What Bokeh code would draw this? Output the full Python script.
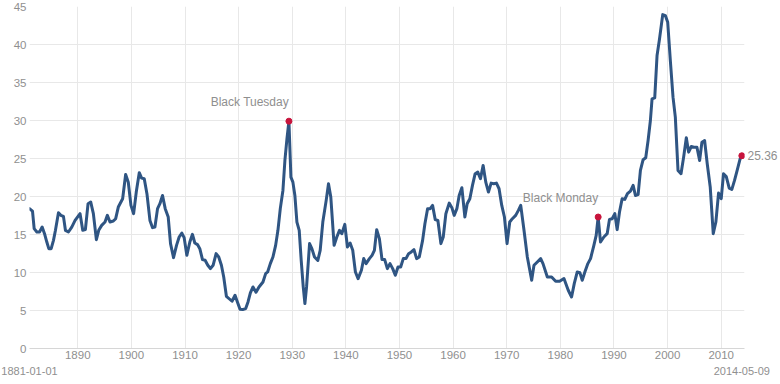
from bokeh.plotting import figure
from bokeh.models import Range1d, FixedTicker, ColumnDataSource, LinearAxis, Label
from bokeh.embed import file_html
from bokeh.resources import INLINE

# ---- data (decimal years, Shiller P/E) ----
years = [1881.00, 1881.56, 1881.87, 1882.37, 1882.87, 1883.36, 1883.80, 1884.23, 1884.60, 1885.04,
         1885.47, 1885.84, 1886.40, 1886.84, 1887.33, 1887.70, 1888.26, 1888.88, 1889.50, 1890.43,
         1890.93, 1891.42, 1891.92, 1892.42, 1892.91, 1893.47, 1893.91, 1894.46, 1895.08, 1895.52,
         1896.01, 1896.63, 1897.07, 1897.56, 1898.37, 1898.93, 1899.42, 1899.92, 1900.42, 1900.91,
         1901.47, 1901.91, 1902.40, 1902.90, 1903.46, 1903.95, 1904.39, 1904.88, 1905.32, 1905.81,
         1906.31, 1906.87, 1907.30, 1907.86, 1908.42, 1908.91, 1909.41, 1909.84, 1910.34, 1910.90,
         1911.39, 1911.83, 1912.33, 1912.76, 1913.26, 1913.75, 1914.25, 1914.74, 1915.24, 1915.80,
         1916.29, 1916.79, 1917.22, 1917.72, 1918.34, 1918.77, 1919.33, 1919.77, 1920.26, 1920.76,
         1921.32, 1921.75, 1922.19, 1922.68, 1923.24, 1923.80, 1924.54, 1925.04, 1925.41, 1925.91,
         1926.40, 1926.90, 1927.33, 1927.77, 1928.26, 1928.63, 1929.01, 1929.38, 1929.75, 1930.12,
         1930.49, 1930.87, 1931.30, 1931.67, 1932.05, 1932.36, 1932.67, 1933.23, 1933.66, 1934.15,
         1934.77, 1935.21, 1935.70, 1936.33, 1936.76, 1937.19, 1937.81, 1938.31, 1938.81, 1939.24,
         1939.80, 1940.29, 1940.79, 1941.28, 1941.78, 1942.28, 1942.90, 1943.33, 1943.77, 1944.39,
         1944.88, 1945.32, 1945.75, 1946.25, 1946.74, 1947.24, 1947.74, 1948.23, 1948.73, 1949.22,
         1949.72, 1950.22, 1950.71, 1951.21, 1951.70, 1952.20, 1952.70, 1953.19, 1953.69, 1954.31,
         1954.74, 1955.24, 1955.73, 1956.17, 1956.67, 1957.16, 1957.72, 1958.16, 1958.65, 1959.27,
         1959.77, 1960.20, 1960.70, 1961.13, 1961.63, 1962.19, 1962.62, 1963.12, 1963.61, 1964.11,
         1964.60, 1965.10, 1965.60, 1966.09, 1966.59, 1967.09, 1967.58, 1968.08, 1968.57, 1969.07,
         1969.57, 1970.06, 1970.56, 1971.05, 1971.67, 1972.17, 1972.61, 1973.22, 1973.84, 1974.65,
         1975.08, 1975.70, 1976.33, 1976.76, 1977.57, 1978.37, 1979.12, 1979.86, 1980.67, 1981.47,
         1982.09, 1982.59, 1983.15, 1983.64, 1984.08, 1984.57, 1985.13, 1985.63, 1986.25, 1986.68,
         1987.05, 1987.49, 1988.11, 1988.73, 1989.16, 1989.66, 1990.16, 1990.59, 1991.03, 1991.52,
         1992.02, 1992.51, 1993.07, 1993.57, 1994.00, 1994.50, 1994.93, 1995.43, 1995.92, 1996.36,
         1996.79, 1997.10, 1997.60, 1998.03, 1998.47, 1999.09, 1999.58, 2000.02, 2000.51, 2001.01,
         2001.44, 2001.94, 2002.50, 2002.99, 2003.49, 2003.92, 2004.42, 2004.91, 2005.47, 2005.97,
         2006.40, 2006.90, 2007.39, 2007.95, 2008.51, 2009.00, 2009.50, 2010.00, 2010.43, 2010.93,
         2011.49, 2011.98, 2012.48, 2012.97, 2013.53, 2013.84]

cape = [18.40, 18.08, 15.77, 15.33, 15.33, 15.98, 15.11, 14.01, 13.14, 13.14,
        14.23, 15.55, 17.87, 17.52, 17.38, 15.55, 15.33, 15.98, 16.85, 17.74,
        15.55, 15.64, 19.05, 19.27, 17.74, 14.32, 15.55, 16.20, 16.64, 17.52,
        16.64, 16.77, 17.08, 18.61, 19.71, 22.90, 21.89, 18.83, 17.74, 20.58,
        23.13, 22.42, 22.34, 20.37, 16.85, 15.90, 15.98, 18.40, 19.05, 20.14,
        18.40, 17.30, 13.80, 11.96, 13.57, 14.67, 15.19, 14.59, 12.26, 14.01,
        15.02, 13.88, 13.67, 13.14, 11.70, 11.61, 10.95, 10.51, 10.95, 12.48,
        12.04, 10.95, 9.41, 6.87, 6.48, 6.22, 7.00, 6.13, 5.16, 5.12,
        5.26, 6.13, 7.31, 8.10, 7.40, 8.10, 8.75, 9.85, 10.07, 11.17,
        12.04, 13.57, 15.55, 18.40, 20.80, 24.74, 27.59, 29.91, 22.55, 21.89,
        20.14, 16.64, 15.55, 11.60, 8.10, 5.91, 8.10, 13.80, 13.14, 12.04,
        11.60, 12.92, 16.64, 19.49, 21.68, 19.92, 13.57, 14.67, 15.55, 15.11,
        16.33, 13.35, 13.88, 12.92, 10.07, 9.20, 10.29, 11.83, 11.17, 11.83,
        12.26, 12.92, 15.64, 14.45, 11.70, 11.70, 10.51, 11.17, 10.51, 9.63,
        10.73, 10.73, 11.83, 11.83, 12.48, 12.70, 13.01, 11.83, 12.04, 14.23,
        16.42, 18.40, 18.40, 18.83, 16.95, 16.85, 13.80, 14.67, 17.74, 19.13,
        18.53, 17.52, 18.40, 20.14, 21.16, 17.30, 19.05, 19.71, 21.46, 23.00,
        23.21, 22.34, 24.09, 21.89, 20.58, 21.76, 21.68, 21.76, 21.02, 18.83,
        17.30, 13.80, 16.64, 17.08, 17.52, 18.17, 18.83, 15.55, 12.04, 8.98,
        10.95, 11.39, 11.83, 11.17, 9.41, 9.41, 8.84, 8.84, 9.20, 7.66,
        6.78, 8.54, 10.07, 9.98, 8.98, 10.07, 11.17, 11.83, 13.57, 14.89,
        17.30, 14.01, 14.67, 15.11, 16.99, 17.08, 17.74, 15.64, 17.96, 19.71,
        19.62, 20.37, 20.71, 21.46, 20.14, 20.24, 23.43, 24.84, 25.10, 27.37,
        30.00, 32.85, 32.98, 38.54, 40.62, 43.93, 43.80, 42.92, 37.88, 33.07,
        30.44, 23.43, 23.00, 25.18, 27.73, 25.84, 26.58, 26.49, 26.49, 24.74,
        27.15, 27.37, 24.31, 21.24, 15.11, 16.64, 20.45, 19.71, 23.00, 22.64,
        21.11, 20.93, 22.12, 23.43, 24.97, 25.36]

event_names = ["Black Tuesday", "Black Monday"]
event_years = [1929.38, 1987.05]

x_ticks = [1890, 1900, 1910, 1920, 1930, 1940, 1950, 1960, 1970, 1980, 1990, 2000, 2010]
y_ticks = [0, 5, 10, 15, 20, 25, 30, 35, 40, 45]
start_label = "1881-01-01"
end_label = "2014-05-09"

# ---- styling ----
LINE = "#2f5583"
DOT = "#c8143c"
TXT = "#8f8f8f"
GRID = "#e8e8e8"
FONT = "Liberation Sans"

p = figure(width=780, height=384, output_backend="svg", toolbar_location=None,
           x_range=Range1d(years[0], years[-1] + 0.5), y_range=Range1d(y_ticks[0], y_ticks[-1]),
           min_border_left=29, min_border_right=34, min_border_top=6, min_border_bottom=36)
p.outline_line_color = None
p.background_fill_color = "white"
p.border_fill_color = "white"

xax = p.xaxis[0]
yax = p.yaxis[0]
xax.ticker = FixedTicker(ticks=x_ticks)
yax.ticker = FixedTicker(ticks=y_ticks)
p.xgrid.grid_line_color = GRID
p.ygrid.grid_line_color = GRID

def style(ax, size="11.5px"):
    ax.major_tick_line_color = None
    ax.minor_tick_line_color = None
    ax.major_tick_out = 0
    ax.major_tick_in = 0
    ax.major_label_text_color = TXT
    ax.major_label_text_font = FONT
    ax.major_label_text_font_size = size

style(xax)
style(yax)
yax.axis_line_color = None
xax.axis_line_color = "#d6d6d6"
xax.major_label_standoff = 2
yax.major_label_standoff = 3

# range labels under the axis (centered on the first/last dates)
rng_ax = LinearAxis(ticker=FixedTicker(ticks=[years[0], years[-1]]),
                    major_label_overrides={years[0]: start_label, years[-1]: end_label})
style(rng_ax, "11px")
rng_ax.axis_line_color = None
rng_ax.major_label_standoff = 5
p.add_layout(rng_ax, "below")

# last value label on the right
last_ax = LinearAxis(ticker=FixedTicker(ticks=[cape[-1]]),
                     major_label_overrides={cape[-1]: f"{cape[-1]:.2f}"})
style(last_ax, "12px")
last_ax.axis_line_color = None
last_ax.major_label_standoff = 3
p.add_layout(last_ax, "right")

src = ColumnDataSource(dict(x=years, y=cape))
p.line("x", "y", source=src, line_color=LINE, line_width=3, line_join="round", line_cap="round")

def nearest(yr):
    i = min(range(len(years)), key=lambda k: abs(years[k] - yr))
    return years[i], cape[i]

hx, hy = [], []
for name, ey in zip(event_names, event_years):
    ex, ev = nearest(ey)
    hx.append(ex); hy.append(ev)
    p.add_layout(Label(x=ex, y=ev, text=name, text_align="right", text_baseline="middle",
                       y_offset=19, text_color=TXT, text_font=FONT, text_font_size="12px"))
hx.append(years[-1]); hy.append(cape[-1])
p.scatter(hx, hy, size=6, color=DOT, line_color=DOT)

open("out.html", "w").write(file_html(p, INLINE))
